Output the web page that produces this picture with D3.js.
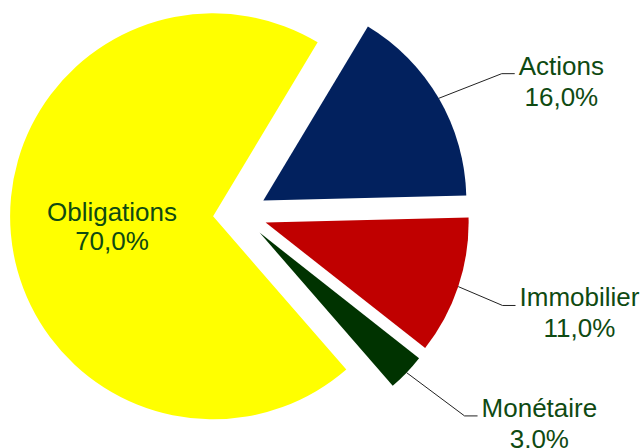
<!DOCTYPE html>
<html lang="fr">
<head>
  <meta charset="UTF-8">
  <title>Répartition du portefeuille</title>
  <style>
    body { margin: 0; padding: 0; background: #fff; }
    svg { display: block; }
    .lbl { font: 26px "Liberation Sans", Arial, sans-serif; fill: #0f4a12; }
    .leader { fill: none; stroke: #222; stroke-width: 1; }
  </style>
</head>
<body>
  <svg id="chart" width="642" height="448"></svg>
  <script src="https://d3js.org/d3.v7.min.js"></script>
  <script>
  (function(){
    // data, in drawing order (clockwise)
    const categories = ["Actions", "Immobilier", "Monétaire", "Obligations"],
          values     = [16.0, 11.0, 3.0, 70.0],
          colors     = ["#02215e", "#c00000", "#003300", "#ffff00"],
          // outside labels: leader elbow as [distance from slice tip, angle nudge in degrees]
          // (distance 0 = label inside the slice)
          elbows     = [[270, 2.2], [251, 0.9], [275, -1.8], [0, 0]];

    const svg = d3.select("#chart"),
          cx = 240, cy = 214,
          radius  = 203,
          explode = 27,
          start   = 31 * Math.PI / 180;

    const fmt = v => d3.format(".1f")(v).replace(".", ",") + "%";

    const data = categories.map((c, i) => ({ name: c, value: values[i], color: colors[i], elbow: elbows[i] }));

    const pie = d3.pie()
      .sort(null)
      .value(d => d.value)
      .startAngle(start)
      .endAngle(start + 2 * Math.PI);

    const arc = d3.arc().innerRadius(0).outerRadius(radius);

    const arcs = pie(data);
    const dir = a => [Math.sin(a), -Math.cos(a)];

    const g = svg.append("g").attr("transform", `translate(${cx},${cy})`);

    const slice = g.selectAll("g.slice")
      .data(arcs)
      .join("g")
        .attr("class", "slice")
        .attr("transform", d => {
          const m = (d.startAngle + d.endAngle) / 2, [ux, uy] = dir(m);
          return `translate(${ux * explode},${uy * explode})`;
        });

    slice.append("path")
      .attr("d", arc)
      .attr("fill", d => d.data.color);

    // inside label
    slice.filter(d => !d.data.elbow[0]).each(function(d){
      const [x, y] = arc.centroid(d);
      const t = d3.select(this).append("text")
        .attr("class", "lbl")
        .attr("text-anchor", "middle")
        .attr("x", x).attr("y", y);
      t.append("tspan").attr("x", x).attr("dy", "-0.17em").text(d.data.name);
      t.append("tspan").attr("x", x).attr("dy", "1.12em").text(fmt(d.data.value));
    });

    // outside labels with leader lines
    slice.filter(d => d.data.elbow[0]).each(function(d){
      const m = (d.startAngle + d.endAngle) / 2, [ux, uy] = dir(m);
      const [dist, nudge] = d.data.elbow,
            [ex, ey] = dir(m + nudge * Math.PI / 180);
      const p0 = [ux * radius, uy * radius],
            p1 = [ex * dist, ey * dist],
            p2 = [p1[0] + 13, p1[1]];
      const sel = d3.select(this);
      sel.append("path")
        .attr("class", "leader")
        .attr("d", d3.line()([p0, p1, p2]));

      const t = sel.append("text").attr("class", "lbl").attr("text-anchor", "middle");
      const l1 = t.append("tspan").text(d.data.name);
      const w = l1.node().getComputedTextLength();
      const xm = p1[0] + 17 + w / 2;
      l1.attr("x", xm).attr("y", p1[1] + 1);
      t.append("tspan").attr("x", xm).attr("y", p1[1] + 32).text(fmt(d.data.value));
    });
  })();
  </script>
</body>
</html>
